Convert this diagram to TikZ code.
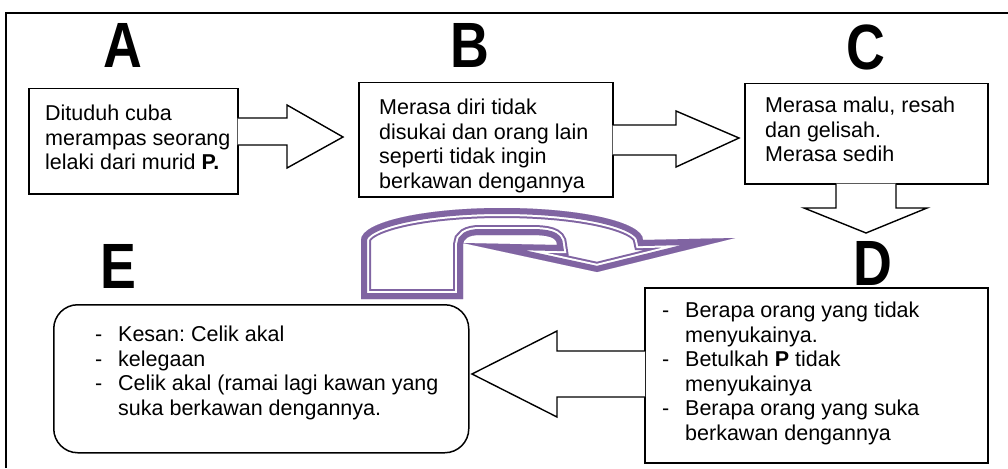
\documentclass[tikz,border=0pt]{standalone}
\usepackage{fontspec}
\setmainfont{Liberation Sans}
\usepackage{graphicx}
\usetikzlibrary{calc}
\definecolor{uturnpurple}{HTML}{8064A2}
\frenchspacing
\tikzset{
  letter/.style={inner sep=0pt, font=\fontsize{64}{64}\selectfont\bfseries},
  box/.style={draw, line width=1.5pt, inner sep=0pt, anchor=north west},
  body/.style={inner sep=0pt, anchor=north west, align=left, font=\fontsize{21.5}{24.5}\selectfont},
  blockarrow/.style={draw, line width=1.4pt, fill=white, line join=miter},
}
\newcommand{\bigletter}[1]{\scalebox{0.84}[1]{#1}}
\newcommand{\dashitem}{\makebox[23pt][l]{-}}
\newcommand{\dashgap}{\hspace*{23pt}}

\begin{document}
\begin{tikzpicture}[x=1pt,y=-1pt]
\useasboundingbox (0,0) rectangle (1008,468);

% frame
\draw[line width=1.5pt] (6,468) -- (6,13) -- (1008,13);

% letters
\node[letter] (labA) at (123,45) {\bigletter{A}};
\node[letter] (labB) at (470,45) {\bigletter{B}};
\node[letter] (labC) at (866,47) {\bigletter{C}};
\node[letter] (labD) at (873,263) {\bigletter{D}};
\node[letter] (labE) at (118,266) {\bigletter{E}};

% boxes
\node[box, minimum width=209pt, minimum height=105pt] (boxA) at (28,88) {};
\node[box, minimum width=254pt, minimum height=114pt] (boxB) at (358,82) {};
\node[box, minimum width=243pt, minimum height=100pt] (boxC) at (744,83) {};
\node[box, minimum width=343pt, minimum height=175pt] (boxD) at (644,287) {};
\node[box, rounded corners=24pt, minimum width=415pt, minimum height=148pt] (boxE) at (53,304) {};

% texts
\node[body] (txtA) at (45,105) {Dituduh cuba\\merampas seorang\\lelaki dari murid \textbf{P.}};
\begin{scope}
\clip (boxB.south west) rectangle (boxB.north east);
\node[body] (txtB) at (379,99) {Merasa diri tidak\\disukai dan orang lain\\seperti tidak ingin\\berkawan dengannya};
\end{scope}
\node[body] (txtC) at (765,97) {Merasa malu, resah\\dan gelisah.\\Merasa sedih};
\node[body] (txtD) at (662,302) {\dashitem Berapa orang yang tidak\\\dashgap menyukainya.\\\dashitem Betulkah \textbf{P} tidak\\\dashgap menyukainya\\\dashitem Berapa orang yang suka\\\dashgap berkawan dengannya};
\node[body] (txtE) at (95,326) {\dashitem Kesan: Celik akal\\\dashitem kelegaan\\\dashitem Celik akal (ramai lagi kawan yang\\\dashgap suka berkawan dengannya.};

% block arrows
\draw[blockarrow] ($(boxA.east |- 0,118)+(-1,0)$) -- (287,118) -- (287,105) -- (343,137) -- (287,168) -- (287,145) -- ($(boxA.east |- 0,145)+(-1,0)$);
\draw[blockarrow] ($(boxB.east |- 0,125)+(-1,0)$) -- (676,125) -- (676,111) -- (739,138) -- (676,167) -- (676,155) -- ($(boxB.east |- 0,155)+(-1,0)$);
\draw[blockarrow] ($(boxC.south -| 836,0)+(0,-1)$) -- (836,208) -- (804,208) -- (866,233) -- (927,208) -- (896,208) -- ($(boxC.south -| 896,0)+(0,-1)$);
\draw[blockarrow] ($(boxD.west |- 0,351)+(1,0)$) -- (557,351) -- (557,331) -- (472,374) -- (557,417) -- (557,397) -- ($(boxD.west |- 0,397)+(1,0)$);

% u-turn arrow
\def\uturnpath{(361,299) -- (361,240) .. controls (361,222) and (424,208) .. (502,208) .. controls (580,208) and (643,222) .. (643,240) -- (735,238) -- (597,272) -- (463,243) -- (557,245) .. controls (557,237) and (548,235) .. (530,235) -- (480,235) .. controls (468,235) and (463,239) .. (463,245) -- (463,299) -- cycle}
\begin{scope}
\clip \uturnpath;
\draw[uturnpurple, line width=20pt] \uturnpath;
\draw[white, line width=16pt] \uturnpath;
\draw[uturnpurple, line width=12pt] \uturnpath;
\end{scope}

\end{tikzpicture}
\end{document}
